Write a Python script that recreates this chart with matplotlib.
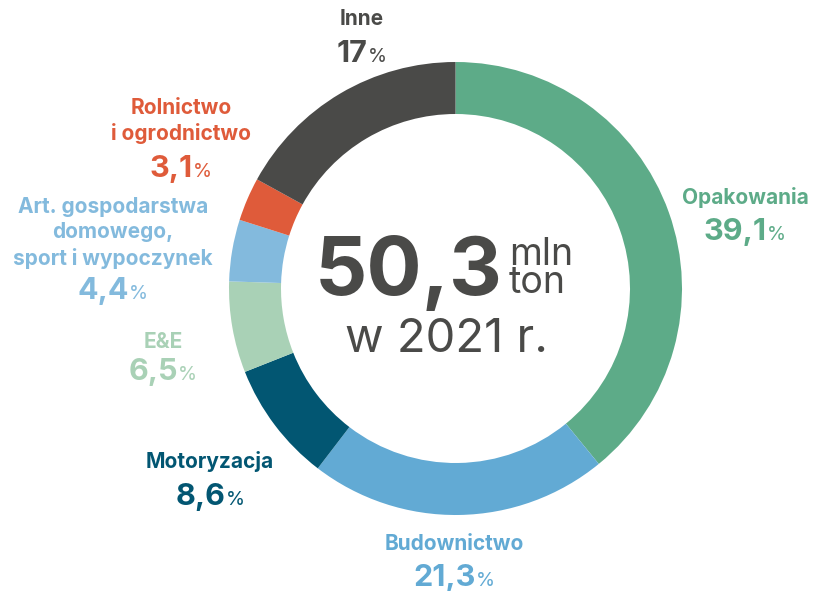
import matplotlib.pyplot as plt

# data
labels = ['Opakowania', 'Budownictwo', 'Motoryzacja', 'E&E',
          'Art. gospodarstwa\ndomowego,\nsport i wypoczynek',
          'Rolnictwo\ni ogrodnictwo', 'Inne']
values = [39.1, 21.3, 8.6, 6.5, 4.4, 3.1, 17.0]
value_text = ['39,1', '21,3', '8,6', '6,5', '4,4', '3,1', '17']
colors = ['#5dab88', '#62aad4', '#025672', '#a9d1b6', '#83badd', '#df5b3a', '#4a4a48']

total_text = '50,3'
unit_text = ['mln', 'ton']
year_text = 'w 2021 r.'

W, H = 817, 591
FONT = 'Inter'
DARK = '#4a4a48'

# label positions in pixels: x center, y center of the name block, baseline of the value
label_pos = [(745, 197, 240), (454, 544, 586), (210, 462, 505), (163, 342, 380),
             (113, 233, 299), (181, 121, 177), (362, 19, 62)]


def Y(y):
    return H - y


fig = plt.figure(figsize=(W / 100, H / 100), dpi=100)
ax = fig.add_axes([0, 0, 1, 1])

cx, cy, r_out = 455.5, Y(288.5), 226.5
ax.pie(values, colors=colors, startangle=90, counterclock=False,
       center=(cx, cy), radius=r_out, frame=True,
       wedgeprops=dict(width=52, linewidth=0))
ax.set_xlim(0, W)
ax.set_ylim(0, H)
ax.set_aspect('equal')
ax.axis('off')

renderer = fig.canvas.get_renderer()


def pct_label(xc, base, num, color):
    t1 = ax.text(0, Y(base), num, fontsize=22, fontweight='bold', color=color,
                 family=FONT, ha='left', va='baseline')
    t2 = ax.text(0, Y(base), '%', fontsize=14, color=color, family=FONT,
                 ha='left', va='baseline')
    w1 = t1.get_window_extent(renderer).width
    w2 = t2.get_window_extent(renderer).width
    left = xc - (w1 + w2) / 2
    t1.set_x(left)
    t2.set_x(left + w1)


for (x, yn, yv), name, num, col in zip(label_pos, labels, value_text, colors):
    ax.text(x, Y(yn), name, fontsize=15, fontweight='bold', color=col,
            family=FONT, ha='center', va='center', linespacing=1.32)
    pct_label(x, yv, num, col)

# center text
ax.text(503, Y(295), total_text, fontsize=59, fontweight='bold', color=DARK,
        family=FONT, ha='right', va='baseline')
ax.text(509, Y(293), '\n'.join(unit_text), fontsize=27, color=DARK, family=FONT,
        ha='left', va='baseline', linespacing=0.72)
ax.text(447, Y(352), year_text, fontsize=34, color=DARK, family=FONT,
        ha='center', va='baseline')

fig.savefig('out.png', dpi=100)
